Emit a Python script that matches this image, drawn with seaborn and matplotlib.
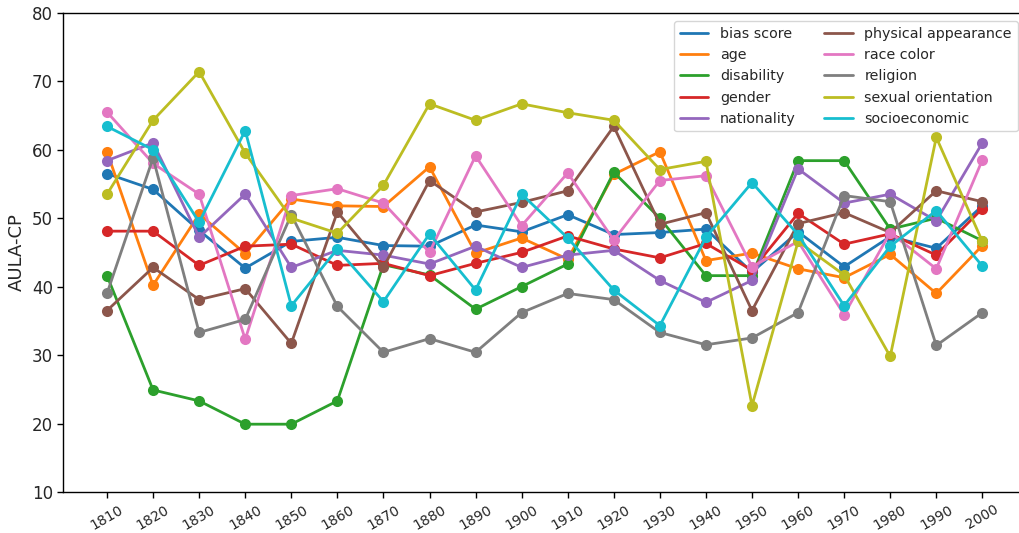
import matplotlib
matplotlib.use("Agg")
import matplotlib.pyplot as plt
from matplotlib.lines import Line2D
import seaborn as sns
import pandas as pd

sns.set_style("white")
plt.rcParams["font.family"] = ["DejaVu Sans"]

years = list(range(1810, 2001, 10))

bias_score = [56.5, 54.2, 48.2, 42.7, 46.6, 47.2, 46.0, 45.9, 49.0, 48.0,
              50.5, 47.6, 47.9, 48.4, 42.1, 48.0, 42.9, 47.3, 45.6, 51.8]
age = [59.7, 40.2, 50.6, 44.8, 52.8, 51.8, 51.7, 57.5, 44.9, 47.1,
       44.0, 56.4, 59.7, 43.8, 44.9, 42.6, 41.3, 44.7, 39.0, 46.0]
disability = [41.6, 24.9, 23.3, 19.9, 19.9, 23.3, 43.2, 41.7, 36.7, 40.0,
              43.3, 56.7, 50.0, 41.6, 41.6, 58.4, 58.4, 48.4, 50.0, 46.7]
gender = [48.1, 48.1, 43.1, 45.9, 46.2, 43.1, 43.4, 41.6, 43.4, 45.0,
          47.4, 45.5, 44.2, 46.3, 42.4, 50.7, 46.2, 47.7, 44.6, 51.4]
nationality = [58.4, 61.0, 47.2, 53.5, 42.8, 45.3, 44.6, 43.3, 45.9, 42.8,
               44.6, 45.3, 40.9, 37.7, 40.9, 57.2, 52.2, 53.5, 49.6, 61.0]
physical_appearance = [36.5, 42.8, 38.1, 39.7, 31.7, 50.9, 42.8, 55.5, 50.9, 52.3,
                       54.0, 63.4, 49.1, 50.8, 36.5, 49.2, 50.8, 47.9, 54.0, 52.4]
race_color = [65.5, 58.0, 53.5, 32.3, 53.3, 54.3, 52.2, 45.0, 59.1, 48.9,
              56.6, 46.8, 55.5, 56.2, 42.9, 46.6, 35.9, 47.9, 42.6, 58.5]
religion = [39.0, 58.8, 33.3, 35.2, 50.5, 37.1, 30.4, 32.4, 30.4, 36.2,
            39.0, 38.1, 33.3, 31.5, 32.5, 36.2, 53.3, 52.4, 31.4, 36.2]
sexual_orientation = [53.5, 64.3, 71.4, 59.5, 50.0, 47.8, 54.8, 66.7, 64.3, 66.7,
                      65.4, 64.3, 57.1, 58.3, 22.6, 46.6, 41.7, 29.8, 61.8, 46.6]
socioeconomic = [63.4, 60.0, 49.4, 62.8, 37.2, 45.5, 37.8, 47.7, 39.5, 53.5,
                 47.1, 39.5, 34.3, 47.2, 55.2, 47.6, 37.2, 45.9, 51.1, 43.0]

series = {
    "bias score": bias_score,
    "age": age,
    "disability": disability,
    "gender": gender,
    "nationality": nationality,
    "physical appearance": physical_appearance,
    "race color": race_color,
    "religion": religion,
    "sexual orientation": sexual_orientation,
    "socioeconomic": socioeconomic,
}

rows = []
for name, vals in series.items():
    for y, v in zip(years, vals):
        rows.append({"year": y, "score": v, "category": name})
df = pd.DataFrame(rows)

colors = sns.color_palette("tab10", len(series))

fig = plt.figure(figsize=(10.2, 5.33), dpi=100)
# axes run a little past the right edge of the image (cropped, as in the original)
ax = fig.add_axes([0.062, 0.077, 0.944, 0.899])

sns.lineplot(data=df, x="year", y="score", hue="category", palette=colors,
             marker="o", markersize=8, markeredgewidth=0, linewidth=2,
             legend=False, ax=ax)

for side in ["top", "right", "left", "bottom"]:
    ax.spines[side].set_visible(True)
    ax.spines[side].set_color("black")
    ax.spines[side].set_linewidth(1)

ax.set_xlim(1800.5, 2009.5)
ax.set_ylim(10, 80)
ax.set_xticks(years)
ax.set_xticklabels([str(y) for y in years], rotation=30, fontsize=10)
ax.tick_params(axis="y", labelsize=12)
ax.tick_params(axis="both", which="major", direction="out", length=4, width=1,
               color="black", bottom=True, left=True)
ax.set_xlabel("")
ax.set_ylabel("AULA-CP", fontsize=13)

handles = [Line2D([], [], color=c, linewidth=2) for c in colors]
ax.legend(handles, list(series.keys()), loc="upper right", ncol=2,
          fontsize=10.3, frameon=True, borderaxespad=0.6)

fig.savefig("out.png", dpi=100)
